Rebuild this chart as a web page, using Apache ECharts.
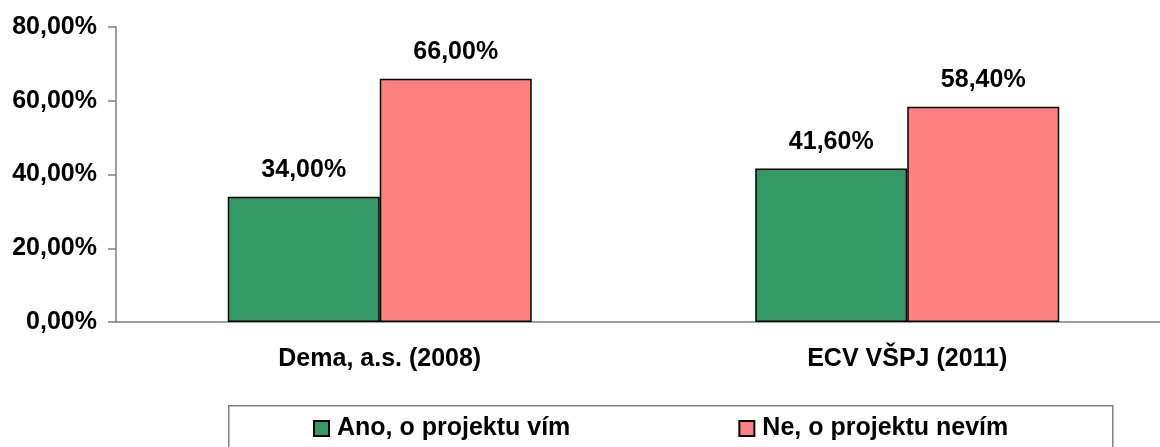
<!DOCTYPE html>
<html>
<head>
<meta charset="utf-8">
<script src="https://cdn.jsdelivr.net/npm/echarts@6/dist/echarts.min.js"></script>
<style>
  html, body { margin: 0; padding: 0; background: #fff; overflow: hidden; }
  /* the plot runs slightly past the right edge of the window, as in the reference */
  #chart { width: 1172px; height: 447px; }
</style>
</head>
<body>
<div id="chart"></div>
<script>
// Values.
const categories = ['Dema, a.s. (2008)', 'ECV VŠPJ (2011)'];
const seriesNames = ['Ano, o projektu vím', 'Ne, o projektu nevím'];
const anoValues = [34.0, 41.6];
const neValues = [66.0, 58.4];
const yTicks = [0, 20, 40, 60, 80];

const FONT = '"Liberation Sans", Arial, sans-serif';
const FS = 25;
const pct = (v) => Number(v).toFixed(2).replace('.', ',') + '%';

const chart = echarts.init(document.getElementById('chart'), null, { renderer: 'canvas' });

const labelStyle = {
  show: true, position: 'top', distance: 14,
  fontFamily: FONT, fontWeight: 'bold', fontSize: FS, color: '#000',
  formatter: (p) => pct(p.value),
};

chart.setOption({
  animation: false,
  backgroundColor: '#fff',
  grid: { left: 116, top: 27, width: 1055, height: 295, containLabel: false },
  xAxis: {
    type: 'category', data: categories,
    axisLine: { lineStyle: { color: '#808080', width: 1.5 } },
    axisTick: { length: 7, lineStyle: { color: '#808080', width: 1.5 } },
    axisLabel: { margin: 25, fontFamily: FONT, fontWeight: 'bold', fontSize: FS, color: '#000' },
  },
  yAxis: {
    type: 'value', min: yTicks[0], max: yTicks[yTicks.length - 1], interval: 20,
    axisLine: { show: true, lineStyle: { color: '#808080', width: 1.5 } },
    axisTick: { show: true, length: 8, lineStyle: { color: '#808080', width: 1.5 } },
    splitLine: { show: false },
    axisLabel: { margin: 19, fontFamily: FONT, fontWeight: 'bold', fontSize: FS, color: '#000', formatter: pct },
  },
  legend: {
    left: 313, top: 416, padding: 0, icon: 'rect', itemWidth: 15, itemHeight: 15, itemGap: 168,
    data: seriesNames,
    textStyle: { fontFamily: FONT, fontWeight: 'bold', fontSize: FS, color: '#000', padding: [0, 0, 0, 3] },
  },
  graphic: [{
    type: 'rect', left: 228, top: 405, z: -1,
    shape: { width: 884, height: 60 },
    style: { fill: '#fff', stroke: '#808080', lineWidth: 1.5 },
  }],
  series: [
    {
      name: seriesNames[0], type: 'bar', data: anoValues, barWidth: 152, barGap: '0%',
      itemStyle: { color: '#339966', borderColor: '#000', borderWidth: 1.5 },
      label: labelStyle,
    },
    {
      name: seriesNames[1], type: 'bar', data: neValues, barWidth: 152, barGap: '0%',
      itemStyle: { color: '#FF8080', borderColor: '#000', borderWidth: 1.5 },
      label: labelStyle,
    },
  ],
});
</script>
</body>
</html>
